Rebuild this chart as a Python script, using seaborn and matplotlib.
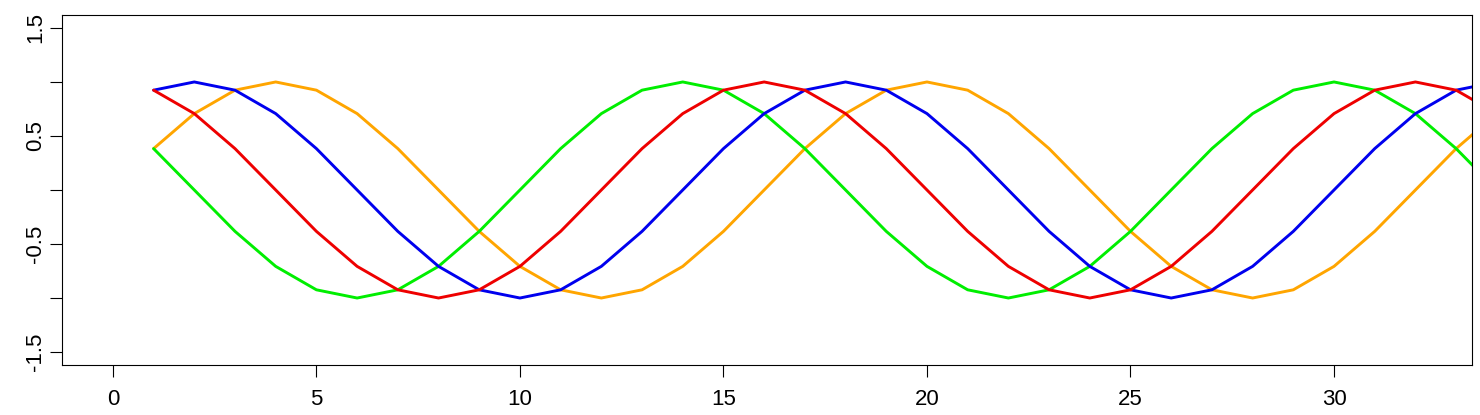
import matplotlib
matplotlib.use("Agg")
import matplotlib.pyplot as plt
import pandas as pd
import seaborn as sns

# x positions and the four wave series
x = list(range(1, 35))
red = [0.924, 0.707, 0.383, 0, -0.383, -0.707, -0.924, -1, -0.924, -0.707,
       -0.383, 0, 0.383, 0.707, 0.924, 1, 0.924, 0.707, 0.383, 0,
       -0.383, -0.707, -0.924, -1, -0.924, -0.707, -0.383, 0, 0.383, 0.707,
       0.924, 1, 0.924, 0.707]
blue = [0.924, 1, 0.924, 0.707, 0.383, 0, -0.383, -0.707, -0.924, -1,
        -0.924, -0.707, -0.383, 0, 0.383, 0.707, 0.924, 1, 0.924, 0.707,
        0.383, 0, -0.383, -0.707, -0.924, -1, -0.924, -0.707, -0.383, 0,
        0.383, 0.707, 0.924, 1]
orange = [0.383, 0.707, 0.924, 1, 0.924, 0.707, 0.383, 0, -0.383, -0.707,
          -0.924, -1, -0.924, -0.707, -0.383, 0, 0.383, 0.707, 0.924, 1,
          0.924, 0.707, 0.383, 0, -0.383, -0.707, -0.924, -1, -0.924, -0.707,
          -0.383, 0, 0.383, 0.707]
green = [0.383, 0, -0.383, -0.707, -0.924, -1, -0.924, -0.707, -0.383, 0,
         0.383, 0.707, 0.924, 1, 0.924, 0.707, 0.383, 0, -0.383, -0.707,
         -0.924, -1, -0.924, -0.707, -0.383, 0, 0.383, 0.707, 0.924, 1,
         0.924, 0.707, 0.383, 0]

xticks = [0, 5, 10, 15, 20, 25, 30]
yticks = [-1.5, -1, -0.5, 0, 0.5, 1, 1.5]
ytick_labels = ["-1.5", "", "-0.5", "", "0.5", "", "1.5"]

series = {"orange": orange, "green": green, "blue": blue, "red": red}
colors = {"orange": "#FFA500", "green": "#00EE00", "blue": "#0000EE", "red": "#EE0000"}

df = pd.concat(
    [pd.DataFrame({"x": x, "y": vals, "s": name}) for name, vals in series.items()],
    ignore_index=True)

sns.set_style("white")
plt.rcParams["font.family"] = ["Liberation Sans", "DejaVu Sans"]

fig = plt.figure(figsize=(14.8, 4.15), dpi=100)
ax = fig.add_axes([0.0419, 0.1205, 0.9527, 0.8434])
sns.lineplot(data=df, x="x", y="y", hue="s", palette=colors, linewidth=2.1,
             legend=False, ax=ax)

ax.set_xlim(-1.25, 33.39)
ax.set_ylim(-1.62, 1.62)
ax.set_xticks(xticks)
ax.set_yticks(yticks)
ax.set_yticklabels(ytick_labels, rotation=90, va="center")
ax.set_xlabel("")
ax.set_ylabel("")
ax.tick_params(axis="both", direction="out", length=8.5, width=0.8,
               labelsize=16, colors="black")
ax.tick_params(axis="x", pad=9)
ax.tick_params(axis="y", pad=3)
ax.tick_params(axis="both", left=True, bottom=True)
for sp in ax.spines.values():
    sp.set_visible(True)
    sp.set_color("black")
    sp.set_linewidth(0.8)

fig.savefig("out.png", dpi=100)
